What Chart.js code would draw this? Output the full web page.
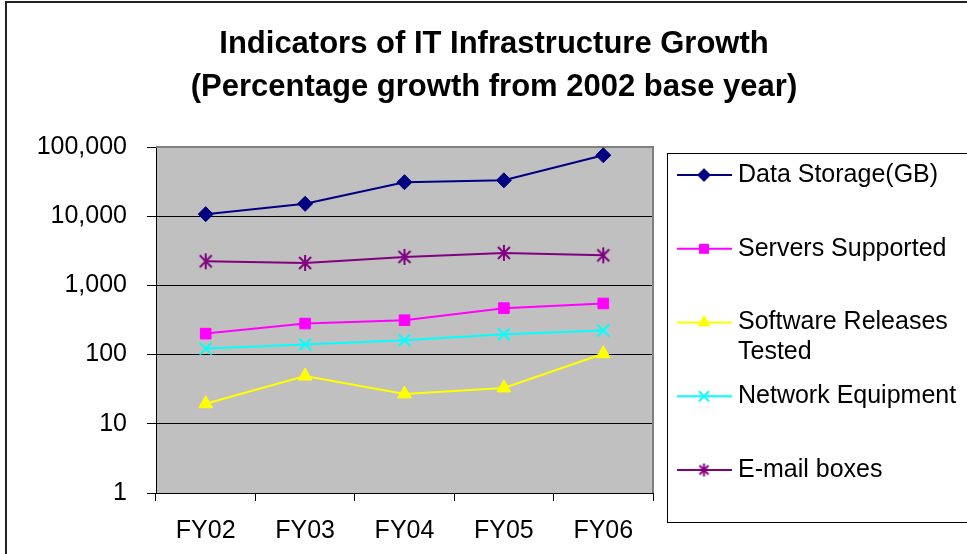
<!DOCTYPE html>
<html>
<head>
<meta charset="utf-8">
<script src="https://cdn.jsdelivr.net/npm/chart.js@4"></script>
<style>
  html, body { margin: 0; padding: 0; background: #ffffff; }
  #chart { display: block; }
</style>
</head>
<body>
<canvas id="chart" width="967" height="554"></canvas>
<script>
// =========================================================
// DATA (log scale)
// =========================================================
const categories = ["FY02", "FY03", "FY04", "FY05", "FY06"];

const dataStorage = [10700, 15100, 31000, 33000, 76000];
const serversSupported = [201, 281, 314, 469, 548];
const softwareReleases = [19.5, 49, 27, 33, 103];
const networkEquipment = [122, 140, 161, 197, 223];
const emailBoxes = [2230, 2110, 2580, 2950, 2720];

const seriesNames = [
  "Data Storage(GB)",
  "Servers Supported",
  "Software Releases Tested",
  "Network Equipment",
  "E-mail boxes",
];

const tickValues = [1, 10, 100, 1000, 10000, 100000];
const tickLabels = ["1", "10", "100", "1,000", "10,000", "100,000"];

const titleLines = [
  "Indicators of IT Infrastructure Growth",
  "(Percentage growth from 2002 base year)",
];

const FONT = "'Liberation Sans', Arial, sans-serif";

// Excel style asterisk marker: an X with a vertical bar through it
function makeAsterisk(color, size) {
  const c = document.createElement("canvas");
  c.width = size;
  c.height = size;
  const g = c.getContext("2d");
  const m = size / 2;
  g.strokeStyle = color;
  g.lineWidth = 2;
  g.beginPath();
  g.moveTo(m, 1); g.lineTo(m, size - 1);
  g.moveTo(3, 3); g.lineTo(size - 3, size - 3);
  g.moveTo(size - 3, 3); g.lineTo(3, size - 3);
  g.stroke();
  return c;
}

const styles = [
  { color: "#000080", point: "rectRot", legendPoint: "rectRot", radius: 7.5 },
  { color: "#FF00FF", point: "rect", legendPoint: "rect", radius: 7.5 },
  { color: "#FFFF00", point: "triangle", legendPoint: "triangle", radius: 8 },
  { color: "#00FFFF", point: "crossRot", legendPoint: "crossRot", radius: 8.5 },
  { color: "#800080", point: makeAsterisk("#800080", 18), legendPoint: makeAsterisk("#800080", 15), radius: 8 },
];

const seriesValues = [dataStorage, serversSupported, softwareReleases, networkEquipment, emailBoxes];

const datasets = seriesValues.map((values, i) => ({
  label: seriesNames[i],
  data: values,
  borderColor: styles[i].color,
  backgroundColor: styles[i].color,
  borderWidth: 2,
  tension: 0,
  pointStyle: styles[i].point,
  pointRadius: styles[i].radius,
  pointHoverRadius: styles[i].radius,
  pointBackgroundColor: styles[i].color,
  pointBorderColor: styles[i].color,
  pointBorderWidth: i === 3 ? 2 : 1,
}));

// =========================================================
// PLUGIN: white page, outer frame, title, grey plot area
// =========================================================
const framePlugin = {
  id: "frame",
  beforeDraw(chart) {
    const ctx = chart.ctx;
    const area = chart.chartArea;
    ctx.save();
    ctx.fillStyle = "#ffffff";
    ctx.fillRect(0, 0, chart.width, chart.height);

    ctx.fillStyle = "#C0C0C0";
    ctx.fillRect(area.left, area.top, area.right - area.left, area.bottom - area.top);

    ctx.strokeStyle = "#222222";
    ctx.lineWidth = 2;
    ctx.strokeRect(6, 2, chart.width + 20, chart.height + 20);

    ctx.fillStyle = "#000000";
    ctx.font = "bold 31px " + FONT;
    ctx.textAlign = "center";
    ctx.textBaseline = "alphabetic";
    ctx.fillText(titleLines[0], 494, 53);
    ctx.fillText(titleLines[1], 494, 96);
    ctx.restore();
  },
  beforeDatasetsDraw(chart) {
    const ctx = chart.ctx;
    const area = chart.chartArea;
    ctx.save();
    ctx.strokeStyle = "#808080";
    ctx.lineWidth = 2;
    ctx.beginPath();
    ctx.moveTo(area.left, area.top);
    ctx.lineTo(area.right, area.top);
    ctx.lineTo(area.right, area.bottom);
    ctx.stroke();
    ctx.restore();
  },
};

// =========================================================
// PLUGIN: boxed legend on the right, line + marker per series
// =========================================================
const legendPlugin = {
  id: "boxLegend",
  afterDraw(chart) {
    const ctx = chart.ctx;
    ctx.save();
    ctx.strokeStyle = "#000000";
    ctx.lineWidth = 1;
    ctx.strokeRect(667.5, 153.5, 330, 369);

    ctx.font = "25px " + FONT;
    ctx.textAlign = "left";
    ctx.textBaseline = "middle";

    chart.data.datasets.forEach((ds, i) => {
      const y = 175 + i * 73.75;
      ctx.strokeStyle = ds.borderColor;
      ctx.lineWidth = 2;
      ctx.beginPath();
      ctx.moveTo(677, y);
      ctx.lineTo(732, y);
      ctx.stroke();

      ctx.fillStyle = ds.pointBackgroundColor;
      ctx.strokeStyle = ds.pointBorderColor;
      ctx.lineWidth = ds.pointBorderWidth;
      if (Chart.helpers && Chart.helpers.drawPoint) {
        Chart.helpers.drawPoint(ctx, {
          pointStyle: styles[i].legendPoint,
          radius: ds.pointRadius * 0.85,
          rotation: 0,
          borderWidth: ds.pointBorderWidth,
        }, 704, y);
      }

      // wrap long names onto a second line
      ctx.fillStyle = "#000000";
      const words = ds.label.split(" ");
      const lines = [];
      let current = "";
      words.forEach((w) => {
        const test = current ? current + " " + w : w;
        if (ctx.measureText(test).width > 222 && current) {
          lines.push(current);
          current = w;
        } else {
          current = test;
        }
      });
      lines.push(current);
      lines.forEach((line, j) => {
        ctx.fillText(line, 738, y + j * 30);
      });
    });
    ctx.restore();
  },
};

new Chart(document.getElementById("chart"), {
  type: "line",
  data: {
    labels: categories,
    datasets: datasets,
  },
  options: {
    responsive: false,
    animation: false,
    devicePixelRatio: 1,
    layout: {
      padding: { top: 147, right: 314, left: 0, bottom: 0 },
    },
    plugins: {
      legend: { display: false },
      title: { display: false },
      tooltip: { enabled: false },
    },
    scales: {
      x: {
        offset: true,
        grid: {
          offset: true,
          drawOnChartArea: false,
          drawTicks: true,
          tickLength: 8,
          color: "#000000",
        },
        border: { color: "#000000", width: 1 },
        ticks: {
          color: "#000000",
          font: { family: FONT, size: 25 },
          padding: 15,
          maxRotation: 0,
        },
        afterFit(scale) {
          scale.height = 61;
        },
      },
      y: {
        type: "logarithmic",
        min: 1,
        max: 100000,
        afterBuildTicks(scale) {
          scale.ticks = tickValues.map((v) => ({ value: v }));
        },
        grid: {
          color: "#000000",
          lineWidth: 1,
          drawTicks: true,
          tickLength: 9,
        },
        border: { color: "#000000", width: 1 },
        ticks: {
          color: "#000000",
          font: { family: FONT, size: 25 },
          padding: 20,
          callback(value) {
            const k = tickValues.indexOf(value);
            return k >= 0 ? tickLabels[k] : "";
          },
        },
        afterFit(scale) {
          scale.width = 156;
        },
      },
    },
  },
  plugins: [framePlugin, legendPlugin],
});
</script>
</body>
</html>
